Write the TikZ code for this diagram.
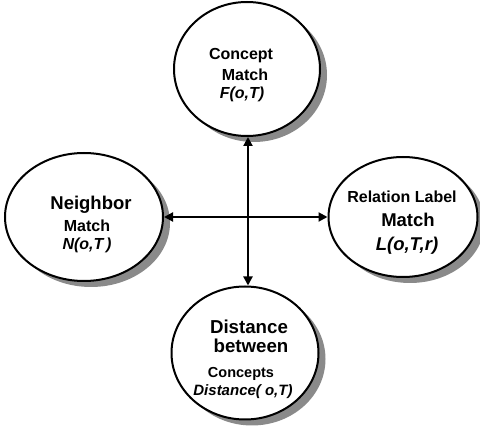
\documentclass[tikz,border=0pt]{standalone}
\usepackage{fontspec}
\setmainfont{Liberation Sans}
\usetikzlibrary{shapes.geometric,arrows.meta}

\definecolor{shadowgray}{RGB}{138,138,138}

\tikzset{
  bubble/.style={ellipse, draw=black, line width=2pt, fill=white, inner sep=0pt},
  dropshadow/.style={fill=shadowgray, draw=none},
  lbl/.style={anchor=base, inner sep=0pt},
  link/.style={line width=2pt, {Triangle[length=9pt,width=9pt]}-{Triangle[length=9pt,width=9pt]}},
}
\newcommand{\fs}[1]{\fontsize{#1}{#1}\selectfont}

\begin{document}
\begin{tikzpicture}[x=1pt,y=-1pt]
  \useasboundingbox (0,0) rectangle (480,430);

  % drop shadows, offset down and to the right
  \path[dropshadow] (254,75) ellipse [x radius=73pt, y radius=67pt];
  \path[dropshadow] (91,223) ellipse [x radius=79pt, y radius=64pt];
  \path[dropshadow] (410,223) ellipse [x radius=74.5pt, y radius=60pt];
  \path[dropshadow] (252,359) ellipse [x radius=73.5pt, y radius=66.5pt];

  % the four matchers
  \node[bubble, minimum width=146pt, minimum height=134pt] (cm) at (247,69) {};
  \node[bubble, minimum width=158pt, minimum height=128pt] (nm) at (84,217) {};
  \node[bubble, minimum width=149pt, minimum height=120pt] (rm) at (403,217) {};
  \node[bubble, minimum width=147pt, minimum height=133pt] (dm) at (245,353) {};

  % connectors
  \coordinate (vtop) at (248,0);
  \draw[link] (cm.south -| vtop) -- (dm.north -| vtop);
  \draw[link] (nm.east) -- (rm.west);

  % concept match
  \node[lbl, font=\bfseries\fs{16}] (t1) at (241,60) {Concept};
  \node[lbl, font=\bfseries\fs{16}] (t2) at (245,81) {Match};
  \node[lbl, font=\bfseries\itshape\fs{16}] (t3) at (242,99) {F(o,T)};

  % neighbor match
  \node[lbl, font=\bfseries\fs{18.5}] (l1) at (91,210) {Neighbor};
  \node[lbl, font=\bfseries\fs{16}] (l2) at (87,232) {Match};
  \node[lbl, font=\bfseries\itshape\fs{16}] (l3) at (87,250) {N(o,T\,)};

  % relation label match
  \node[lbl, font=\bfseries\fs{16}] (r1) at (402,203) {Relation Label};
  \node[lbl, font=\bfseries\fs{18.5}] (r2) at (408,227) {Match};
  \node[lbl, font=\bfseries\itshape\fs{18.5}] (r3) at (407,251) {L(o,T,r)};

  % distance between concepts
  \node[lbl, font=\bfseries\fs{18.7}] (d1) at (249,334) {Distance};
  \node[lbl, font=\bfseries\fs{18.7}] (d2) at (251,353) {between};
  \node[lbl, font=\bfseries\fs{14.5}] (d3) at (241,378) {Concepts};
  \node[lbl, font=\bfseries\itshape\fs{15}] (d4) at (243,396) {Distance( o,T)};
\end{tikzpicture}
\end{document}
